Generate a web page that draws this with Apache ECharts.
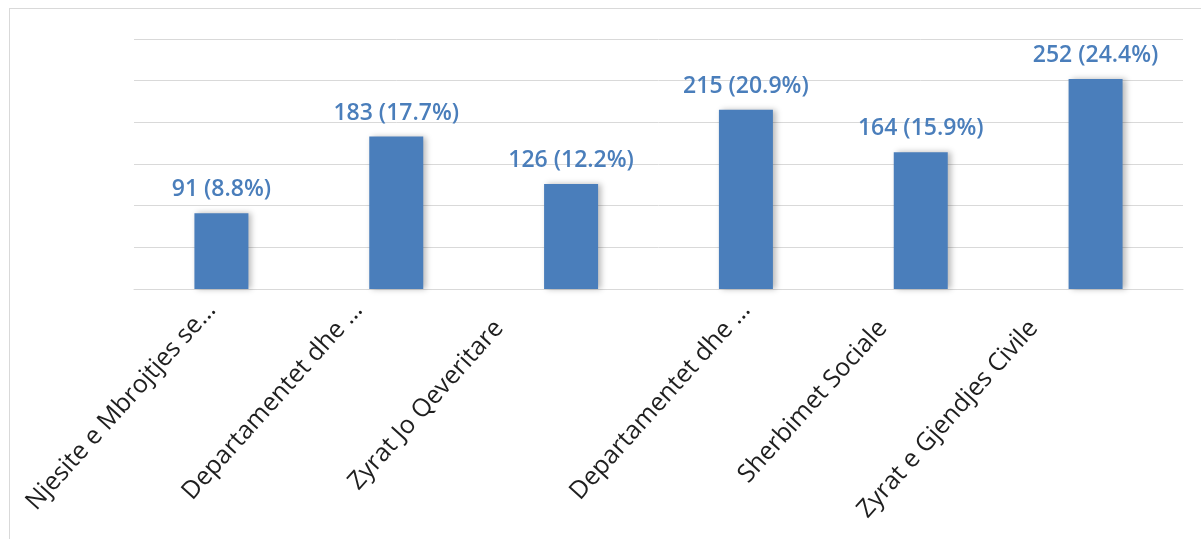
<!DOCTYPE html>
<html>
<head>
<meta charset="utf-8">
<script src="https://cdn.jsdelivr.net/npm/echarts@6/dist/echarts.min.js"></script>
<style>
  html, body { margin: 0; padding: 0; background: #ffffff; }
  #frame { position: absolute; left: 9px; top: 8px; width: 1200px; height: 540px;
           border-left: 1px solid #d9d9d9; border-top: 1px solid #d9d9d9; }
  #chart { position: absolute; left: 0; top: 0; width: 1201px; height: 539px; }
</style>
</head>
<body>
<div id="frame"></div>
<div id="chart"></div>
<script>
// Institution categories (long names shortened with an ellipsis)
const categories = [
  'Njesite e Mbrojtjes se\u2026',
  'Departamentet dhe \u2026',
  'Zyrat Jo Qeveritare',
  'Departamentet dhe \u2026',
  'Sherbimet Sociale',
  'Zyrat e Gjendjes Civile'
];
// Counts per category and their share of the total (%)
const counts = [91, 183, 126, 215, 164, 252];
const shares = [8.8, 17.7, 12.2, 20.9, 15.9, 24.4];

// Offset (px) of each rotated category label: [leftwards, downwards]
const labelNudge = [[10, 0], [38, 0], [72, 18], [0, 0], [38, 18], [62, 18]];
const LABEL_ROTATE = 48;

const BLUE = '#4A7EBB';
const FONT = '"Open Sans", "Liberation Sans", sans-serif';

const chart = echarts.init(document.getElementById('chart'), null, { renderer: 'canvas' });

// A rotated label is slid along its own direction (right padding) and
// lifted across it (an empty second line of chosen height); the two
// together give any screen offset.
const th = LABEL_ROTATE * Math.PI / 180;
const along = labelNudge.map(([dx, dy]) => dx * Math.cos(th) + dy * Math.sin(th));
const lift = labelNudge.map(([dx, dy]) => dx * Math.sin(th) - dy * Math.cos(th));

const xData = categories.map((name, i) => {
  const style = { padding: [0, along[i], 0, 0] };
  if (lift[i] > 0.5) style.lineHeight = 2 * lift[i];
  return { value: name, textStyle: style };
});

chart.setOption({
  animation: false,
  backgroundColor: 'transparent',
  grid: {
    left: 134, right: 18, top: 39, bottom: 250,
    containLabel: false,
    outerBoundsMode: 'none'
  },
  xAxis: {
    type: 'category',
    data: xData,
    axisLine: { show: true, lineStyle: { color: '#d9d9d9', width: 1 } },
    axisTick: { show: false },
    axisLabel: {
      interval: 0,
      rotate: LABEL_ROTATE,
      margin: 17,
      color: '#1f1f1f',
      fontFamily: FONT,
      fontSize: 25,
      formatter: (value, idx) => (lift[idx] > 0.5 ? value + '\n ' : value)
    }
  },
  yAxis: {
    type: 'value',
    min: 0,
    max: 300,
    interval: 50,
    axisLine: { show: false },
    axisTick: { show: false },
    axisLabel: { show: false },
    splitLine: { show: true, lineStyle: { color: '#d9d9d9', width: 1 } }
  },
  series: [{
    type: 'bar',
    data: counts,
    barWidth: 54,
    itemStyle: {
      color: BLUE,
      shadowColor: 'rgba(0,0,0,0.28)',
      shadowBlur: 6,
      shadowOffsetX: 3,
      shadowOffsetY: 0
    },
    label: {
      show: true,
      position: 'top',
      distance: 12,
      color: BLUE,
      fontFamily: FONT,
      fontWeight: 600,
      fontSize: 23,
      formatter: (p) => `${counts[p.dataIndex]} (${shares[p.dataIndex]}%)`
    }
  }]
});
</script>
</body>
</html>
